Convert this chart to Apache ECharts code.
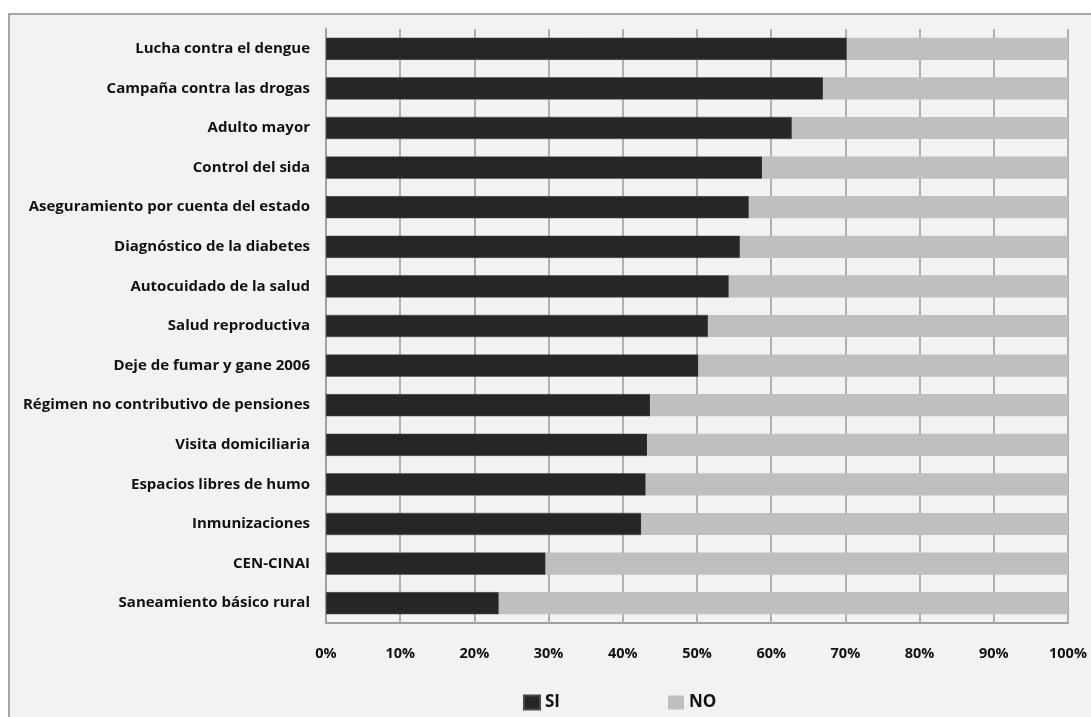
<!DOCTYPE html>
<html>
<head>
<meta charset="utf-8">
<script src="https://cdn.jsdelivr.net/npm/echarts@6/dist/echarts.min.js"></script>
<style>
html,body{margin:0;padding:0;background:#ffffff;width:1091px;height:717px;overflow:hidden;}
#bg{position:absolute;left:8px;top:13px;width:1100px;height:720px;background:#f2f2f2;border-left:2px solid #a6a6a6;border-top:2px solid #a6a6a6;}
#chart{position:absolute;left:0;top:0;width:1091px;height:717px;}
</style>
</head>
<body>
<div id="bg"></div>
<div id="chart"></div>
<script>
const categories = [
  "Lucha contra el dengue",
  "Campaña contra las drogas",
  "Adulto mayor",
  "Control del sida",
  "Aseguramiento por cuenta del estado",
  "Diagnóstico de la diabetes",
  "Autocuidado de la salud",
  "Salud reproductiva",
  "Deje de fumar y gane 2006",
  "Régimen no contributivo de pensiones",
  "Visita domiciliaria",
  "Espacios libres de humo",
  "Inmunizaciones",
  "CEN-CINAI",
  "Saneamiento básico rural"
];
const siValues = [70.2, 67.0, 62.8, 58.8, 57.0, 55.8, 54.3, 51.5, 50.2, 43.7, 43.3, 43.1, 42.5, 29.6, 23.3];
const noValues = [29.8, 33.0, 37.2, 41.2, 43.0, 44.2, 45.7, 48.5, 49.8, 56.3, 56.7, 56.9, 57.5, 70.4, 76.7];
const xTicks = [0, 10, 20, 30, 40, 50, 60, 70, 80, 90, 100];

const chart = echarts.init(document.getElementById('chart'), null, {renderer: 'canvas'});
const fontFam = '"Open Sans", Lato, sans-serif';
chart.setOption({
  backgroundColor: 'transparent',
  animation: false,
  grid: {left: 326, right: 23, top: 29, bottom: 94, containLabel: false},
  legend: {
    data: ['SI', 'NO'],
    left: 518, top: 689,
    itemWidth: 16, itemHeight: 14, itemGap: 108,
    icon: 'rect',
    textStyle: {fontFamily: fontFam, fontWeight: 'bold', fontSize: 17, color: '#111111', padding: [0, 0, 0, 0]}
  },
  xAxis: {
    type: 'value', min: xTicks[0], max: xTicks[xTicks.length - 1], interval: 10,
    axisLine: {show: true, lineStyle: {color: '#a0a0a0', width: 2}},
    axisTick: {show: false},
    splitLine: {show: true, lineStyle: {color: '#9a9a9a', width: 1.5}},
    axisLabel: {formatter: '{value}%', margin: 23, fontFamily: fontFam, fontWeight: 'bold', fontSize: 14.5, color: '#111111'}
  },
  yAxis: {
    type: 'category', data: categories, inverse: true,
    axisLine: {show: true, lineStyle: {color: '#a0a0a0', width: 2}},
    axisTick: {show: false},
    axisLabel: {margin: 16, fontFamily: fontFam, fontWeight: 'bold', fontSize: 15, color: '#111111'}
  },
  series: [
    {name: 'SI', type: 'bar', stack: 'total', data: siValues, barWidth: '56%',
     itemStyle: {color: '#262626', borderColor: '#4a4a4a', borderWidth: 0.5}},
    {name: 'NO', type: 'bar', stack: 'total', data: noValues, barWidth: '56%',
     itemStyle: {color: '#bfbfbf'}}
  ]
});
</script>
</body>
</html>
